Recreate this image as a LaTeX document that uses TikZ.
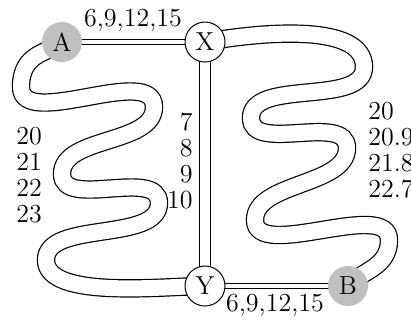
\documentclass[tikz,border=0pt]{standalone}
\usetikzlibrary{backgrounds}
\definecolor{nodegray}{HTML}{C0C0C0}

\begin{document}
\begin{tikzpicture}[x=0.5pt, y=0.5pt,
  every node/.style={font=\fontsize{13}{13}\selectfont},
  city/.style={circle, draw, fill=white, minimum size=20pt, inner sep=0pt, line width=0.5pt},
  endcity/.style={circle, fill=nodegray, minimum size=20pt, inner sep=0pt},
  wlabel/.style={inner sep=0pt},
  thinpipe/.style={draw, line width=0.5pt, double=white, double distance=1.6pt},
  midpipe/.style={draw, line width=0.7pt, double=white, double distance=5pt},
  tube/.style={draw, line width=0.6pt, double=white, double distance=8pt}]
  \useasboundingbox (0,0) rectangle (411,-323);
  % cities
  \node[endcity] (A) at (62,-42) {A};
  \node[city] (X) at (205,-42) {X};
  \node[city] (Y) at (205,-286) {Y};
  \node[endcity] (B) at (348,-286) {B};
  % weights
  \node[wlabel] (wAX) at (133,-20) {6,9,12,15};
  \node[wlabel] (wYB) at (275,-305) {6,9,12,15};
  \node[wlabel, anchor=east, align=right] (wXY) at (193,-161) {7\\8\\9\\10};
  \node[wlabel, align=left] (wAY) at (29,-175) {20\\21\\22\\23};
  \node[wlabel, anchor=west, align=left] (wXB) at (368,-150) {20\\20.9\\21.8\\22.7};
  \begin{scope}[on background layer]
    \draw[thinpipe] (A.center) -- (X.center);
    \draw[midpipe] (X.center) -- (Y.center);
    \draw[thinpipe] (Y.center) -- (B.center);
    % left meander, A to Y
    \draw[tube] (A.center) to[out=225, in=90, out distance=8pt, in distance=18pt] (21,-87)
      to[out=270, in=90, distance=22pt] (154,-107)
      to[out=270, in=90, distance=19pt] (62,-174)
      to[out=270, in=90, distance=18pt] (159,-203)
      to[out=270, in=90, distance=20pt] (46,-260)
      to[out=270, in=180, out distance=20pt, in distance=20pt] (Y.center);
    % right meander, X to B
    \draw[tube] (X.center) to[out=10, in=90, out distance=30pt, in distance=22pt] (364,-67)
      to[out=270, in=90, distance=20pt] (251,-118)
      to[out=270, in=90, distance=18pt] (347,-148)
      to[out=270, in=90, distance=19pt] (255,-220)
      to[out=270, in=90, distance=21pt] (389,-240)
      to[out=270, in=50, out distance=14pt, in distance=10pt] (B.center);
  \end{scope}
\end{tikzpicture}
\end{document}
